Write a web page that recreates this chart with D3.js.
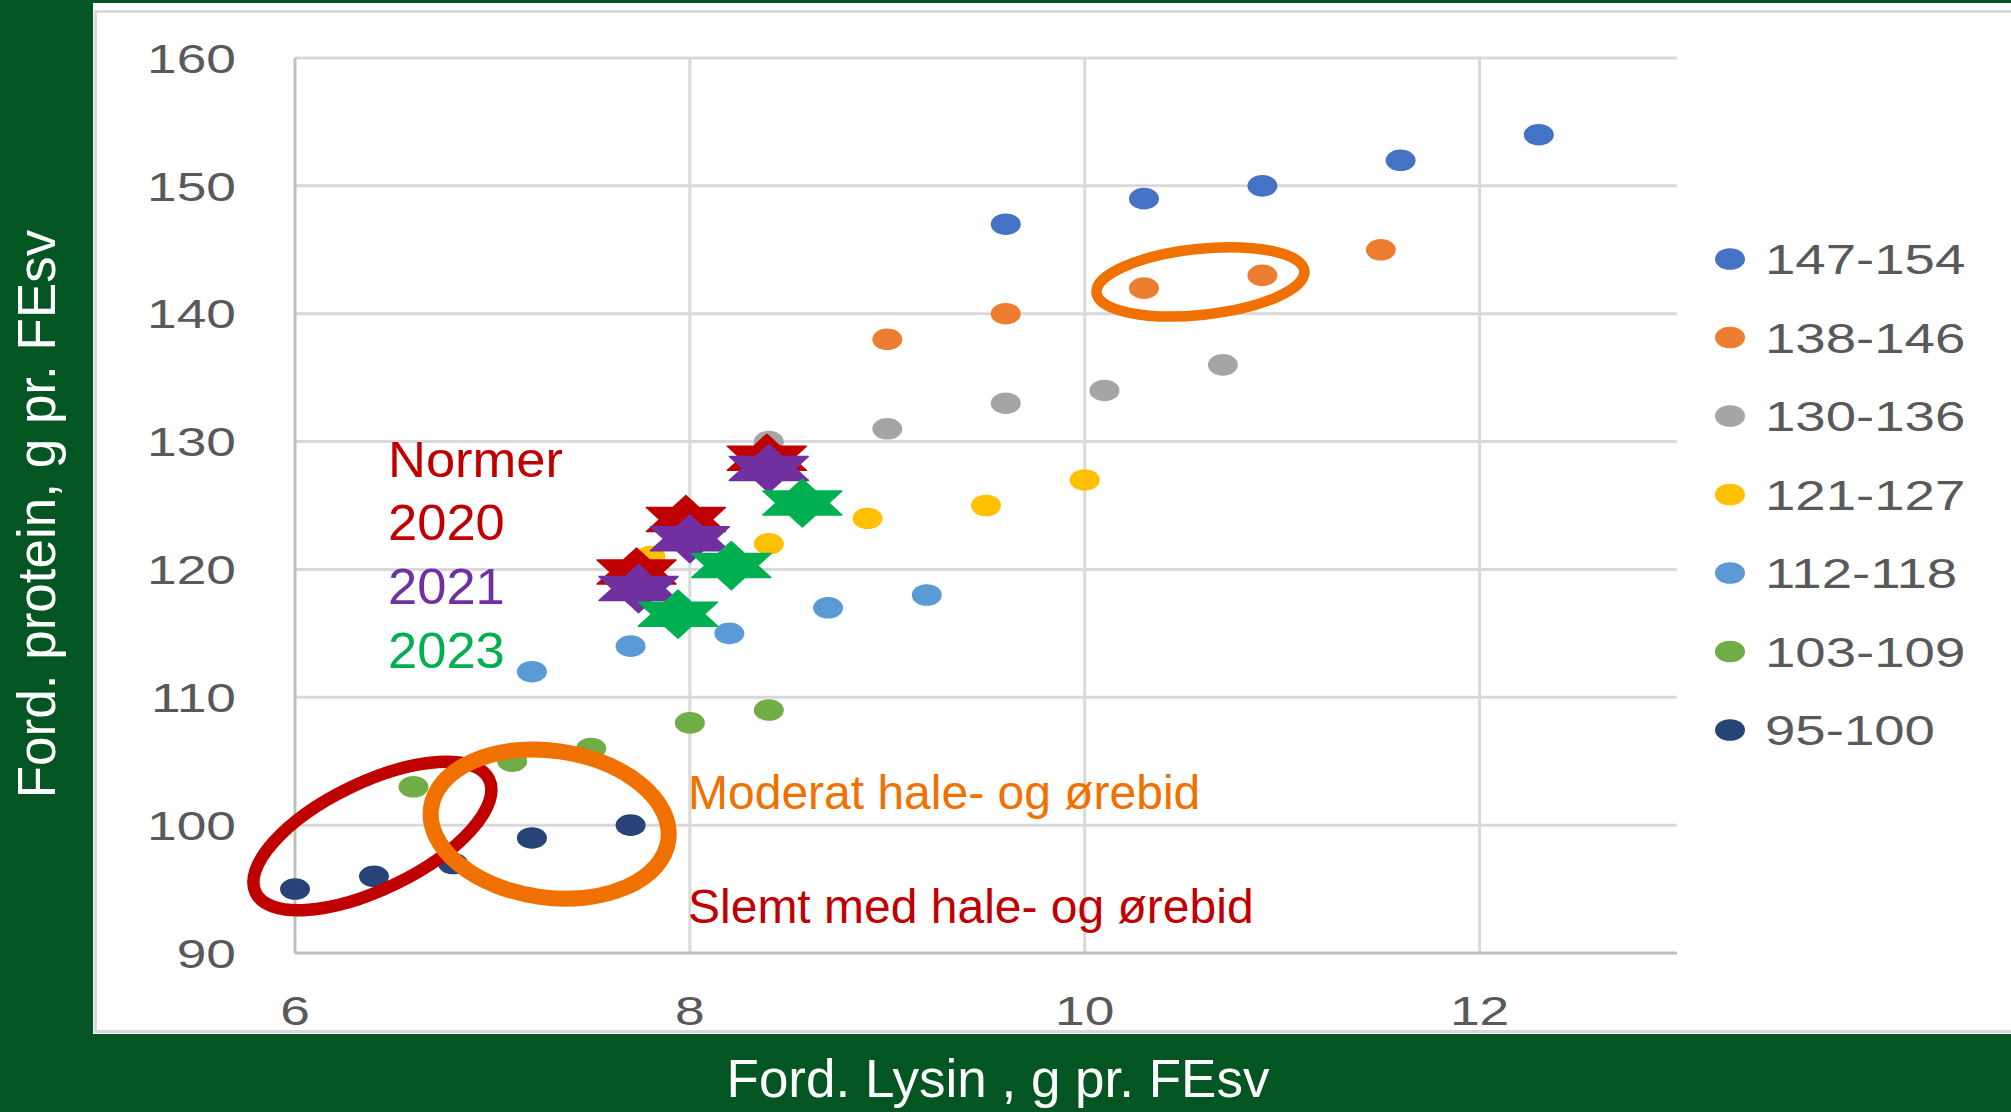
<!DOCTYPE html>
<html>
<head>
<meta charset="utf-8">
<script src="https://cdn.jsdelivr.net/npm/d3@7"></script>
<style>
  html, body { margin: 0; padding: 0; background: #035622; }
  svg { display: block; }
  text { font-family: "Liberation Sans", Arial, sans-serif; }
</style>
</head>
<body>
<svg id="chart" width="2011" height="1112"></svg>
<script>
// weight classes (legend) and their points
const classNames = ['147-154', '138-146', '130-136', '121-127', '112-118', '103-109', '95-100']
const classColors = ['#4472C4', '#ED7D31', '#A5A5A5', '#FFC000', '#5B9BD5', '#70AD47', '#264478']
const lysin = [
  [9.6, 10.3, 10.9, 11.6, 12.3],
  [9.0, 9.6, 10.3, 10.9, 11.5],
  [8.4, 9.0, 9.6, 10.1, 10.7],
  [7.8, 8.4, 8.9, 9.5, 10.0],
  [7.2, 7.7, 8.2, 8.7, 9.2],
  [6.6, 7.1, 7.5, 8.0, 8.4],
  [6.0, 6.4, 6.8, 7.2, 7.7]
]
const protein = [
  [147, 149, 150, 152, 154],
  [138, 140, 142, 143, 145],
  [130, 131, 133, 134, 136],
  [121, 122, 124, 125, 127],
  [112, 114, 115, 117, 118],
  [103, 105, 106, 108, 109],
  [95, 96, 97, 99, 100]
]

// norms (stars)
const normYears = ['2020', '2021', '2023']
const normColors = ['#C00000', '#7030A0', '#00B050']
const normLysin = [[7.73, 7.98, 8.39], [7.74, 8.0, 8.4], [7.94, 8.21, 8.57]]
const normProtein = [[119.8, 123.9, 128.7], [118.5, 122.4, 127.9], [116.5, 120.3, 125.2]]

const xTicks = [6, 8, 10, 12]
const yTicks = [90, 100, 110, 120, 130, 140, 150, 160]

const svg = d3.select('#chart')

// white chart panel
svg.append('rect').attr('x', 93).attr('y', 3).attr('width', 1918).attr('height', 1031).attr('fill', '#fff')
svg.append('rect').attr('x', 95.5).attr('y', 11.5).attr('width', 1930).attr('height', 1020)
  .attr('fill', 'none').attr('stroke', '#d9d9d9').attr('stroke-width', 3)

const xScale = d3.scaleLinear().domain([6, 13]).range([295, 1677])
const yScale = d3.scaleLinear().domain([90, 160]).range([953, 58])

const grid = svg.append('g')
grid.selectAll('.hgrid').data(yTicks.slice(1)).join('line')
  .attr('x1', xScale(6)).attr('x2', xScale(13))
  .attr('y1', d => yScale(d)).attr('y2', d => yScale(d))
  .attr('stroke', '#d9d9d9').attr('stroke-width', 3)
grid.selectAll('.vgrid').data(xTicks.slice(1)).join('line')
  .attr('x1', d => xScale(d)).attr('x2', d => xScale(d))
  .attr('y1', yScale(90)).attr('y2', yScale(160))
  .attr('stroke', '#d9d9d9').attr('stroke-width', 3)
// axis lines
grid.append('line').attr('x1', xScale(6)).attr('x2', xScale(6)).attr('y1', yScale(90)).attr('y2', yScale(160))
  .attr('stroke', '#bfbfbf').attr('stroke-width', 3)
grid.append('line').attr('x1', xScale(6)).attr('x2', xScale(13)).attr('y1', yScale(90)).attr('y2', yScale(90))
  .attr('stroke', '#bfbfbf').attr('stroke-width', 3)

// tick labels are stretched wide like the original
const stretch = (g, x, y, str, sx, anchor) => g.append('text')
  .attr('transform', `translate(${x},${y}) scale(${sx},1)`)
  .attr('text-anchor', anchor)
  .text(str)

const ticks = svg.append('g').attr('fill', '#595959').attr('font-size', 41)
yTicks.forEach(t => stretch(ticks, 236, yScale(t) + 14.7, t, 1.3, 'end'))
xTicks.forEach(t => stretch(ticks, xScale(t), 1025, t, 1.3, 'middle'))

// axis titles
svg.append('text').attr('x', 998).attr('y', 1096.5).attr('text-anchor', 'middle')
  .attr('fill', '#fff').attr('font-size', 53).text('Ford. Lysin , g pr. FEsv')
svg.append('text').attr('transform', 'translate(54.5,514) rotate(-90)').attr('text-anchor', 'middle')
  .attr('fill', '#fff').attr('font-size', 53).text('Ford. protein, g pr. FEsv')

// scatter points (ellipses, the picture is stretched sideways)
const points = svg.append('g')
classNames.forEach((name, i) => {
  const pts = lysin[i].map((lx, j) => [lx, protein[i][j]])
  points.selectAll(`.s${i}`).data(pts).join('ellipse')
    .attr('class', `s${i}`)
    .attr('cx', d => xScale(d[0])).attr('cy', d => yScale(d[1]))
    .attr('rx', 15).attr('ry', 10.8)
    .attr('fill', classColors[i])
})

// six-pointed stars
const starRx = 45.6, starRy = 24
const starPath = d3.range(12).map(k => {
  const a = (k * 30 - 90) * Math.PI / 180
  const r = k % 2 === 0 ? 1 : 1 / Math.sqrt(3)
  return [Math.cos(a) * r * starRx, Math.sin(a) * r * starRy]
})
const starD = 'M' + starPath.map(p => p.join(',')).join('L') + 'Z'
const stars = svg.append('g')
normYears.forEach((yr, i) => {
  const pts = normLysin[i].map((lx, j) => [lx, normProtein[i][j]])
  stars.selectAll(`.n${i}`).data(pts).join('path')
    .attr('class', `n${i}`)
    .attr('d', starD)
    .attr('transform', d => `translate(${xScale(d[0])},${yScale(d[1])})`)
    .attr('fill', normColors[i])
    .attr('stroke', normColors[i]).attr('stroke-width', 1.5).attr('stroke-linejoin', 'round')
})

// hand drawn rings
const rings = [
  { cx: 6.392, cy: 99.15, rx: 129.75, ry: 53.25, rot: -25.9, color: '#C00000', w: 12.5 },
  { cx: 7.29, cy: 100.08, rx: 119.7, ry: 73.4, rot: 7.8, color: '#F07000', w: 16 },
  { cx: 10.586, cy: 142.49, rx: 104.5, ry: 33, rot: -6, color: '#F07000', w: 10.5 }
]
svg.append('g').selectAll('ellipse').data(rings).join('ellipse')
  .attr('transform', d => `translate(${xScale(d.cx)},${yScale(d.cy)}) rotate(${d.rot})`)
  .attr('rx', d => d.rx).attr('ry', d => d.ry)
  .attr('fill', 'none').attr('stroke', d => d.color).attr('stroke-width', d => d.w)

// annotation texts
const notes = svg.append('g').attr('font-size', 50)
stretch(notes, 388, 476.7, 'Normer', 1.05, 'start').attr('fill', '#C00000')
normYears.forEach((yr, i) => stretch(notes, 388, 540 + i * 64, yr, 1.05, 'start').attr('fill', normColors[i]))
svg.append('text').attr('x', 688).attr('y', 809.3).attr('font-size', 48).attr('fill', '#F07000')
  .text('Moderat hale- og ørebid')
svg.append('text').attr('x', 688).attr('y', 923.3).attr('font-size', 48).attr('fill', '#C00000')
  .text('Slemt med hale- og ørebid')

// legend
const legend = svg.append('g').attr('font-size', 42).attr('fill', '#595959')
classNames.forEach((name, i) => {
  const ly = 259 + i * 78.5
  legend.append('ellipse').attr('cx', 1730).attr('cy', ly).attr('rx', 15).attr('ry', 10.8).attr('fill', classColors[i])
  stretch(legend, 1765, ly + 15, name, 1.3, 'start')
})
</script>
</body>
</html>
